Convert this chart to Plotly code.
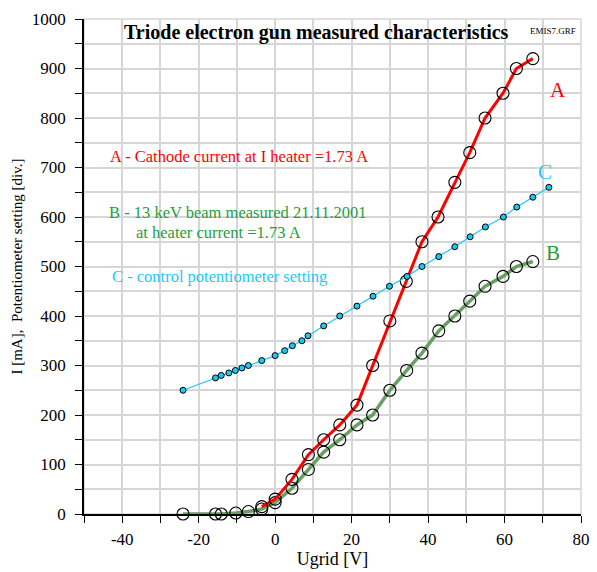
import plotly.graph_objects as go

# Grid voltage [V] and measured values
ugrid_a = [-3.5, 0, 4.4, 8.7, 12.7, 16.9, 21.4, 25.5, 30.0, 34.3, 38.4, 42.6, 47.0, 50.9, 54.9, 59.6, 63.1, 67.4]
cathode_current = [15, 30, 70, 120, 150, 180, 220, 300, 390, 470, 550, 600, 670, 730, 800, 850, 900, 920]

ugrid_b = [-24.1, -15.6, -14.1, -10.3, -7.0, -3.5, 0, 4.4, 8.7, 12.7, 16.9, 21.4, 25.5, 30.0, 34.4, 38.4, 42.8, 47.0, 50.9, 54.9, 59.6, 63.1, 67.4]
beam_current = [0, 0, 0, 2, 5, 10, 23, 52, 90, 125, 150, 180, 200, 250, 290, 325, 370, 400, 430, 460, 480, 500, 510]

ugrid_c = [-24.1, -15.6, -14.1, -12.1, -10.4, -8.7, -7.0, -3.5, 0, 2.5, 4.5, 7.0, 8.6, 12.7, 16.9, 21.4, 25.6, 29.9, 34.5, 38.4, 42.8, 47.0, 51.0, 55.0, 59.7, 63.2, 67.4, 71.6]
pot_setting = [250, 275, 280, 285, 290, 295, 300, 310, 320, 330, 340, 350, 360, 380, 400, 420, 440, 460, 480, 500, 520, 540, 560, 580, 600, 620, 640, 660]

# Axis tick labels (plain hyphen for negatives)
x_ticks = [-40, -20, 0, 20, 40, 60, 80]
x_tick_text = ["-40", "-20", "0", "20", "40", "60", "80"]
y_ticks = [0, 100, 200, 300, 400, 500, 600, 700, 800, 900, 1000]
y_tick_text = [str(v) for v in y_ticks]

RED = "#ff0000"
GREEN_LINE = "#6a9f64"
GREEN_TEXT = "#1f9e3a"
CYAN = "#1ec8f5"
FONT = "Liberation Serif, Times New Roman, Times, serif"

fig = go.Figure()

fig.add_trace(go.Scatter(
    x=ugrid_b, y=beam_current, mode="lines+markers",
    line=dict(color=GREEN_LINE, width=3.5),
    marker=dict(symbol="circle-open", size=12, color="black", line=dict(width=1.1)),
    showlegend=False, cliponaxis=False,
))
fig.add_trace(go.Scatter(
    x=ugrid_a, y=cathode_current, mode="lines+markers",
    line=dict(color=RED, width=3),
    marker=dict(symbol="circle-open", size=12, color="black", line=dict(width=1.1)),
    showlegend=False, cliponaxis=False,
))
fig.add_trace(go.Scatter(
    x=ugrid_c, y=pot_setting, mode="lines+markers",
    line=dict(color=CYAN, width=1.2),
    marker=dict(symbol="circle", size=6, color=CYAN, line=dict(color="black", width=1)),
    showlegend=False, cliponaxis=False,
))

annotations = [
    dict(x=0.468, y=1.0 - 14 / 495, xref="paper", yref="paper",
         text="<b>Triode electron gun measured characteristics</b>",
         font=dict(family=FONT, size=20, color="black"), showarrow=False,
         xanchor="center", yanchor="middle"),
    dict(x=0.993, y=1.0 - 12 / 495, xref="paper", yref="paper", text="EMIS7.GRF",
         font=dict(family=FONT, size=9, color="black"), showarrow=False,
         xanchor="right", yanchor="middle"),
    dict(x=-43.8, y=723, text="A - Cathode current at I heater =1.73 A",
         font=dict(family=FONT, size=16.5, color=RED), showarrow=False,
         xanchor="left", yanchor="middle"),
    dict(x=-44.0, y=610, text="B - 13 keV beam measured 21.11.2001",
         font=dict(family=FONT, size=16.5, color=GREEN_TEXT), showarrow=False,
         xanchor="left", yanchor="middle"),
    dict(x=-36.9, y=568, text="at heater current =1.73 A",
         font=dict(family=FONT, size=16.5, color=GREEN_TEXT), showarrow=False,
         xanchor="left", yanchor="middle"),
    dict(x=-43.2, y=479, text="C - control potentiometer setting",
         font=dict(family=FONT, size=16.5, color=CYAN), showarrow=False,
         xanchor="left", yanchor="middle"),
    dict(x=74.0, y=857, text="A", font=dict(family=FONT, size=21, color=RED),
         showarrow=False, xanchor="center", yanchor="middle"),
    dict(x=70.6, y=691, text="C", font=dict(family=FONT, size=21, color=CYAN),
         showarrow=False, xanchor="center", yanchor="middle"),
    dict(x=72.7, y=527, text="B", font=dict(family=FONT, size=21, color=GREEN_TEXT),
         showarrow=False, xanchor="center", yanchor="middle"),
]

GRID = "#d6d6d6"

fig.update_layout(
    width=597, height=572,
    margin=dict(l=84, r=16, t=19, b=58, autoexpand=False),
    paper_bgcolor="white", plot_bgcolor="white",
    font=dict(family=FONT, size=17, color="black"),
    annotations=annotations,
    shapes=[dict(type="rect", xref="paper", yref="paper", x0=0, y0=0, x1=1, y1=1,
                 line=dict(color=GRID, width=1.5), layer="below")],
    xaxis=dict(
        range=[-50, 80], tickmode="array", tickvals=x_ticks, ticktext=x_tick_text,
        showgrid=True, gridcolor=GRID, gridwidth=1.5,
        minor=dict(dtick=10, tick0=0, showgrid=True, gridcolor=GRID, gridwidth=1.5,
                   ticks="outside", ticklen=7, tickcolor="black"),
        ticks="outside", ticklen=7, tickcolor="black", tickwidth=1,
        showline=True, linecolor="black", linewidth=1.5,
        zeroline=False, ticklabelstandoff=2, automargin=False,
        tickfont=dict(family=FONT, size=17),
        title=dict(text="Ugrid [V]", font=dict(family=FONT, size=18), standoff=4),
    ),
    yaxis=dict(
        range=[0, 1000], tickmode="array", tickvals=y_ticks, ticktext=y_tick_text,
        showgrid=True, gridcolor=GRID, gridwidth=1.5,
        minor=dict(dtick=50, tick0=0, showgrid=True, gridcolor=GRID, gridwidth=1.5,
                   ticks="outside", ticklen=7, tickcolor="black"),
        ticks="outside", ticklen=7, tickcolor="black", tickwidth=1,
        showline=True, linecolor="black", linewidth=1.5,
        zeroline=False, ticklabelstandoff=6, automargin=False,
        tickfont=dict(family=FONT, size=17),
        title=dict(text="I [mA],  Potentiometer setting [div.]",
                   font=dict(family=FONT, size=15), standoff=6),
    ),
)

fig.write_html("out.html")
